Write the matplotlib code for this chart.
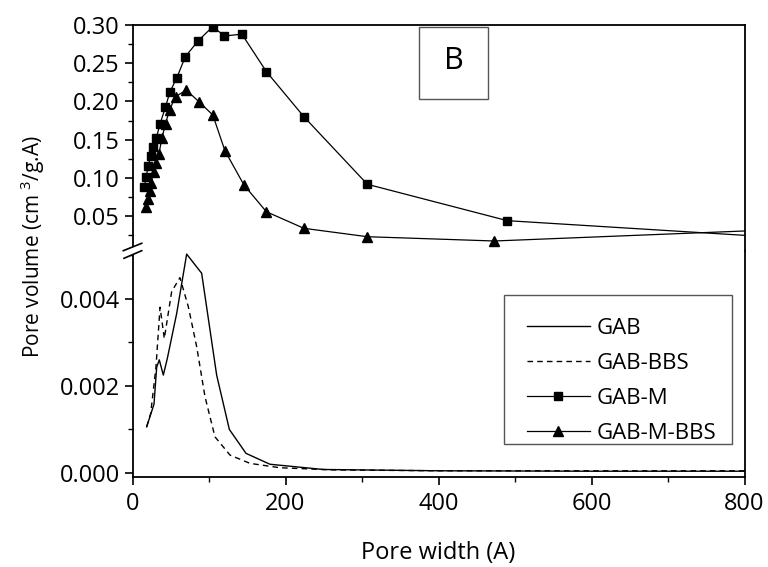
import matplotlib
matplotlib.use("Agg")
import matplotlib.pyplot as plt
from matplotlib.lines import Line2D
from matplotlib.patches import Polygon, Rectangle
from matplotlib.ticker import MultipleLocator, FormatStrFormatter

plt.rcParams['font.family'] = ['Open Sans', 'DejaVu Sans']
plt.rcParams['mathtext.fontset'] = 'custom'
plt.rcParams['mathtext.rm'] = 'Open Sans'

# GAB-M (squares) and GAB-M-BBS (triangles), upper panel
gabm_x = [15.5, 18, 20.5, 24, 27, 31, 36, 43, 49, 58, 69, 86, 105, 120, 143, 175, 224, 307, 490, 800]
gabm_y = [0.088, 0.1015, 0.116, 0.1285, 0.140, 0.1517, 0.1704, 0.1923, 0.2127, 0.231, 0.2585,
          0.2795, 0.298, 0.2856, 0.288, 0.239, 0.180, 0.0915, 0.0439, 0.0247]
gabmb_x = [17.9, 20.1, 22.3, 24.4, 27.5, 31, 34.5, 38.4, 43.2, 48.4, 56.3, 70.3, 86.8, 105,
           120.8, 145.7, 175, 224, 307, 473, 800]
gabmb_y = [0.0622, 0.0723, 0.0827, 0.0936, 0.108, 0.119, 0.131, 0.1517, 0.171, 0.189, 0.2062,
           0.2149, 0.1996, 0.1822, 0.1355, 0.0906, 0.0556, 0.0339, 0.0229, 0.0173, 0.0304]

# GAB (solid) and GAB-BBS (dashed), lower panel
gab_x = [18.5, 28.1, 31.6, 35, 40.3, 45.5, 57.8, 70.8, 90.4, 110, 126.6, 148.4, 179.7, 249, 400, 600, 800]
gab_y = [0.00105, 0.00157, 0.00242, 0.00259, 0.00224, 0.00262, 0.00366, 0.00502, 0.00458,
         0.00224, 0.00099, 0.00044, 0.00019, 0.00007, 0.00004, 0.00003, 0.00003]
gabb_x = [18.5, 23.8, 30.7, 36, 41.6, 51.2, 62, 73, 83.9, 94.8, 107.8, 127.5, 153.6, 192.8, 262, 400, 600, 800]
gabb_y = [0.00105, 0.00136, 0.00243, 0.0038, 0.00308, 0.00416, 0.00448, 0.00381, 0.00289,
          0.00174, 0.00082, 0.0004, 0.00021, 0.00011, 0.00006, 0.00004, 0.00004, 0.00004]

W, H = 768, 567
fig = plt.figure(figsize=(7.68, 5.67), dpi=100)
left, right = 132.5, 744.5
ax_top = fig.add_axes([left / W, 1 - 251 / H, (right - left) / W, 226 / H])
ax_bot = fig.add_axes([left / W, 1 - 477 / H, (right - left) / W, 226 / H])

# upper panel
l3, = ax_top.plot(gabm_x, gabm_y, color='black', lw=0.9, marker='s', ms=6.3,
                  markevery=slice(0, len(gabm_x) - 1), label='GAB-M')
l4, = ax_top.plot(gabmb_x, gabmb_y, color='black', lw=0.9, marker='^', ms=7.5,
                  markevery=slice(0, len(gabmb_x) - 1), label='GAB-M-BBS')
ax_top.set_xlim(0, 800)
ax_top.set_ylim(0.0042, 0.30)
ax_top.yaxis.set_major_locator(MultipleLocator(0.05))
ax_top.yaxis.set_minor_locator(MultipleLocator(0.025))
ax_top.yaxis.set_major_formatter(FormatStrFormatter('%.2f'))
ax_top.spines['bottom'].set_visible(False)
ax_top.tick_params(axis='x', which='both', bottom=False, labelbottom=False)

# lower panel
l1, = ax_bot.plot(gab_x, gab_y, color='black', lw=1.0, label='GAB')
l2, = ax_bot.plot(gabb_x, gabb_y, color='black', lw=1.0, ls=(0, (4, 3)), label='GAB-BBS')
ax_bot.set_xlim(0, 800)
ax_bot.set_ylim(-0.000103, 0.005092)
ax_bot.yaxis.set_major_locator(MultipleLocator(0.002))
ax_bot.yaxis.set_minor_locator(MultipleLocator(0.001))
ax_bot.yaxis.set_major_formatter(FormatStrFormatter('%.3f'))
ax_bot.xaxis.set_major_locator(MultipleLocator(200))
ax_bot.xaxis.set_minor_locator(MultipleLocator(100))
ax_bot.spines['top'].set_visible(False)

for ax in (ax_top, ax_bot):
    for s in ax.spines.values():
        s.set_linewidth(1.3)
    ax.tick_params(which='major', direction='out', length=6, width=1.2, labelsize=17, pad=3)
    ax.tick_params(which='minor', direction='out', length=3.5, width=1.0)
    ax.tick_params(top=False, right=False)
ax_bot.tick_params(axis='x', which='major', pad=5)

ax_bot.set_xlabel('Pore width (A)', fontsize=17, labelpad=18)
fig.text(33 / W, 1 - 247 / H, r'Pore volume (cm$^{\ 3}$/g.A)', rotation=90,
         ha='center', va='center', fontsize=15)

# axis break marks
ft = fig.transFigure
def fpt(x, y):
    return (x / W, 1 - y / H)
fig.add_artist(Polygon([fpt(123.3, 250.7), fpt(141.7, 243.3), fpt(141.7, 250.7), fpt(124, 258.3)],
                       closed=True, facecolor='white', edgecolor='none', transform=ft))
for (x0, y0, x1, y1) in [(123.3, 250.7, 141.7, 243.3), (124, 258.3, 141.7, 250.7)]:
    a, b = fpt(x0, y0), fpt(x1, y1)
    fig.add_artist(Line2D([a[0], b[0]], [a[1], b[1]], color='black', lw=1.2, transform=ft))

# panel label box
bx0, by0 = fpt(419.3, 99)
bx1, by1 = fpt(487.7, 26.7)
fig.add_artist(Rectangle((bx0, by0), bx1 - bx0, by1 - by0, facecolor='white',
                         edgecolor='#555555', lw=1.0, transform=ft))
fig.text((bx0 + bx1) / 2, (by0 + by1) / 2 + 0.003, 'B', ha='center', va='center', fontsize=22)

# legend frame drawn by hand, entries placed without frame
lx0, ly0 = fpt(504.3, 444)
lx1, ly1 = fpt(731.7, 295)
fig.add_artist(Rectangle((lx0, ly0), lx1 - lx0, ly1 - ly0, facecolor='white',
                         edgecolor='#555555', lw=1.0, transform=ft, zorder=3))
leg = fig.legend(handles=[l1, l2, l3, l4], loc='upper left', bbox_to_anchor=fpt(526.7, 318),
                 bbox_transform=ft, fontsize=16, frameon=False, handlelength=2.85,
                 handletextpad=0.3, labelspacing=0.63, borderpad=0, borderaxespad=0)
leg.set_zorder(4)

fig.savefig('out.png', dpi=100)
